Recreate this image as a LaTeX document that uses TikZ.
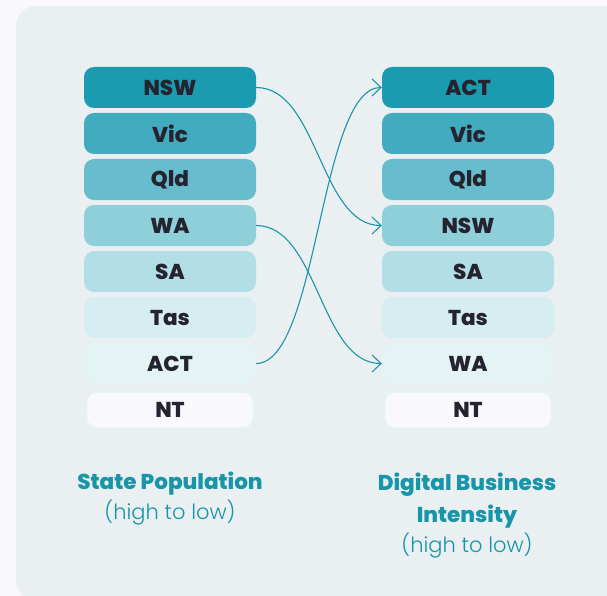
\documentclass[tikz,border=0pt]{standalone}
\usepackage{fontspec}
\setmainfont{Poppins}[BoldFont={Poppins ExtraBold}]
\newfontfamily\lightfont{Poppins Light}
\usetikzlibrary{arrows.meta}
\definecolor{pagebg}{HTML}{F8F8FD}
\definecolor{panelbg}{HTML}{EAF0F2}
\definecolor{ink}{HTML}{25232F}
\definecolor{teal}{HTML}{1895A8}
\definecolor{rowA}{HTML}{1A9BB0}
\definecolor{rowB}{HTML}{43ABBF}
\definecolor{rowC}{HTML}{67BCCD}
\definecolor{rowD}{HTML}{8FCFDA}
\definecolor{rowE}{HTML}{B2DFE6}
\definecolor{rowF}{HTML}{D6EDF2}
\definecolor{rowG}{HTML}{E4F3F4}
\definecolor{rowH}{HTML}{F9F9FD}
\tikzset{
  statebox/.style={rounded corners=10pt, minimum width=172pt, minimum height=41pt,
    inner sep=0pt, font=\fontsize{21.5}{24}\selectfont\bfseries, text=ink},
  lastbox/.style={statebox, minimum width=167pt, minimum height=36pt,
    draw=rowG, line width=1.5pt},
  link/.style={teal, line width=1.1pt,
    -{Straight Barb[length=9pt,width=17pt,line width=1.1pt]},
    out=0, in=180, distance=62pt},
  heading/.style={text=teal, font=\fontsize{21.5}{24}\selectfont\bfseries, anchor=base},
  subheading/.style={text=teal, font=\fontsize{21}{24}\lightfont, anchor=base}
}
\begin{document}
\begin{tikzpicture}[x=1pt, y=-1pt]
  \useasboundingbox (0,0) rectangle (607,596);
  \fill[pagebg] (0,0) rectangle (607,596);
  \fill[panelbg, rounded corners=20pt] (16,6) rectangle (640,600);

  % state population column
  \node[statebox, fill=rowA] (lNSW) at (170,87.5) {NSW};
  \node[statebox, fill=rowB] (lVic) at (170,133.5) {Vic};
  \node[statebox, fill=rowC] (lQld) at (170,179.5) {Qld};
  \node[statebox, fill=rowD] (lWA)  at (170,225.5) {WA};
  \node[statebox, fill=rowE] (lSA)  at (170,271.5) {SA};
  \node[statebox, fill=rowF] (lTas) at (170,317.5) {Tas};
  \node[statebox, fill=rowG] (lACT) at (170,363.5) {ACT};
  \node[lastbox,  fill=rowH] (lNT)  at (170,410) {NT};

  % digital business intensity column
  \node[statebox, fill=rowA] (rACT) at (468,87.5) {ACT};
  \node[statebox, fill=rowB] (rVic) at (468,133.5) {Vic};
  \node[statebox, fill=rowC] (rQld) at (468,179.5) {Qld};
  \node[statebox, fill=rowD] (rNSW) at (468,225.5) {NSW};
  \node[statebox, fill=rowE] (rSA)  at (468,271.5) {SA};
  \node[statebox, fill=rowF] (rTas) at (468,317.5) {Tas};
  \node[statebox, fill=rowG] (rWA)  at (468,363.5) {WA};
  \node[lastbox,  fill=rowH] (rNT)  at (468,410) {NT};

  % rank changes
  \draw[link] (lNSW.east) to (rNSW.west);
  \draw[link] (lWA.east)  to (rWA.west);
  \draw[link] (lACT.east) to (rACT.west);

  % column captions
  \node[heading]    (capL1) at (170,489) {State Population};
  \node[subheading] (capL2) at (170,519) {(high to low)};
  \node[heading]    (capR1) at (467,490) {Digital Business};
  \node[heading]    (capR2) at (467,522) {Intensity};
  \node[subheading] (capR3) at (467,552) {(high to low)};
\end{tikzpicture}
\end{document}
